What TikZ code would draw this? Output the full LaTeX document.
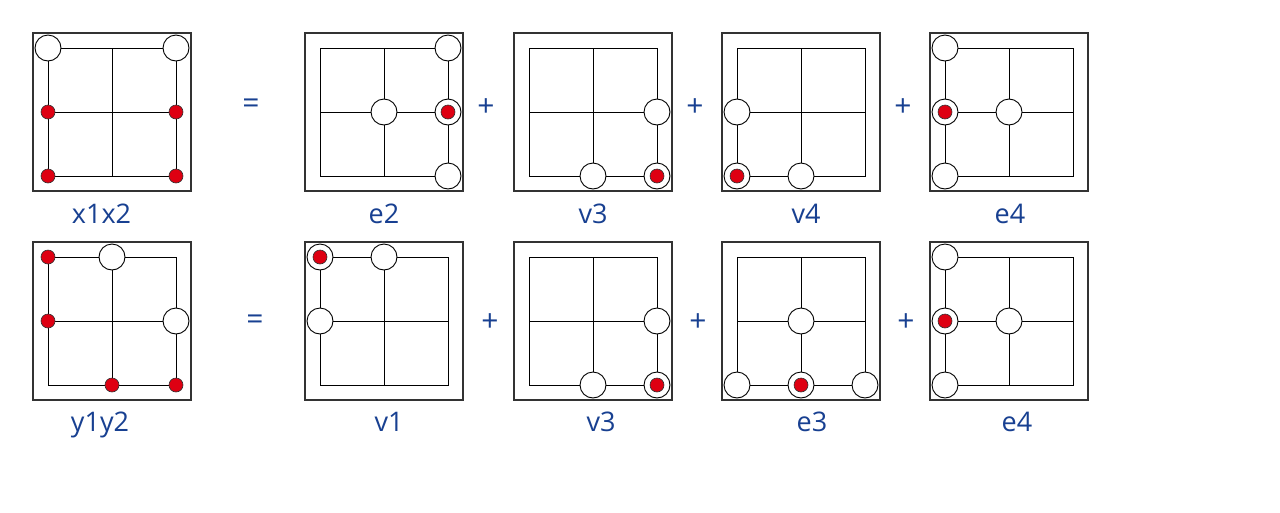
\documentclass[tikz,border=0pt]{standalone}
\usepackage{fontspec}
\setmainfont{Open Sans}
\definecolor{lblue}{RGB}{24,64,145}
\definecolor{dotred}{RGB}{222,0,18}
\tikzset{
 panelbox/.style={draw=black!80, line width=1.6pt, minimum size=158pt, inner sep=0pt, anchor=north west},
 gridline/.style={draw=black, line width=1pt},
 wc/.style={circle, draw=black, fill=white, line width=0.9pt, minimum size=26pt, inner sep=0pt},
 rd/.style={circle, draw=black!80, fill=dotred, line width=0.6pt, minimum size=14pt, inner sep=0pt},
 lbl/.style={text=lblue, font=\fontsize{27}{32}\selectfont, anchor=base, inner sep=0pt},
 opsign/.style={text=lblue, font=\fontsize{30}{36}\selectfont, inner sep=0pt},
}
\newcommand\mkpanel[3]{%
 \node[panelbox] (#1) at (#2,#3) {};
 \foreach \i in {0,1,2}{\foreach \j in {0,1,2}{\coordinate (#1-\i\j) at ({#2+16+64*\i},{#3+16+64*(2-\j)});}}
 \draw[gridline] (#1-00) rectangle (#1-22);
 \draw[gridline] (#1-10) -- (#1-12);
 \draw[gridline] (#1-01) -- (#1-21);
}
\newcommand\wcirc[2]{\node[wc] (#1) at (#2) {};}
\newcommand\rdot[2]{\node[rd] (#1) at (#2) {};}
\newcommand\ringdot[2]{\node[wc] (#1) at (#2) {}; \node[rd] (#1-in) at (#2) {};}
\begin{document}
\begin{tikzpicture}[x=1pt,y=-1pt]
\fill[white] (0,0) rectangle (1280,512);
\useasboundingbox (0,0) rectangle (1280,512);
% row 1
\mkpanel{A1}{32}{32}
\mkpanel{B1}{304}{32}
\mkpanel{C1}{513}{32}
\mkpanel{D1}{721}{32}
\mkpanel{E1}{929}{32}
% row 2
\mkpanel{A2}{32}{241}
\mkpanel{B2}{304}{241}
\mkpanel{C2}{513}{241}
\mkpanel{D2}{721}{241}
\mkpanel{E2}{929}{241}
% A1 x1x2
\wcirc{a1w1}{A1-02}\wcirc{a1w2}{A1-22}
\rdot{a1r1}{A1-01}\rdot{a1r2}{A1-21}\rdot{a1r3}{A1-00}\rdot{a1r4}{A1-20}
% B1 e2
\wcirc{b1w1}{B1-22}\wcirc{b1w2}{B1-11}\wcirc{b1w3}{B1-20}\ringdot{b1r}{B1-21}
% C1 v3
\wcirc{c1w1}{C1-21}\wcirc{c1w2}{C1-10}\ringdot{c1r}{C1-20}
% D1 v4
\wcirc{d1w1}{D1-01}\wcirc{d1w2}{D1-10}\ringdot{d1r}{D1-00}
% E1 e4
\wcirc{e1w1}{E1-02}\wcirc{e1w2}{E1-11}\wcirc{e1w3}{E1-00}\ringdot{e1r}{E1-01}
% A2 y1y2
\rdot{a2r1}{A2-02}\rdot{a2r2}{A2-01}\rdot{a2r3}{A2-10}\rdot{a2r4}{A2-20}
\wcirc{a2w1}{A2-12}\wcirc{a2w2}{A2-21}
% B2 v1
\ringdot{b2r}{B2-02}\wcirc{b2w1}{B2-12}\wcirc{b2w2}{B2-01}
% C2 v3
\wcirc{c2w1}{C2-21}\wcirc{c2w2}{C2-10}\ringdot{c2r}{C2-20}
% D2 e3
\wcirc{d2w1}{D2-11}\wcirc{d2w2}{D2-00}\wcirc{d2w3}{D2-20}\ringdot{d2r}{D2-10}
% E2 e4
\wcirc{e2w1}{E2-02}\wcirc{e2w2}{E2-11}\wcirc{e2w3}{E2-00}\ringdot{e2r}{E2-01}
% labels
\node[lbl] (lA1) at (101.5,223) {x1x2};
\node[lbl] (lB1) at (384,223) {e2};
\node[lbl] (lC1) at (593,223) {v3};
\node[lbl] (lD1) at (806,223) {v4};
\node[lbl] (lE1) at (1010,223) {e4};
\node[lbl] (lA2) at (100,431) {y1y2};
\node[lbl] (lB2) at (389,431) {v1};
\node[lbl] (lC2) at (601,431) {v3};
\node[lbl] (lD2) at (812,431) {e3};
\node[lbl] (lE2) at (1017,431) {e4};
% operators
\node[opsign] (eq1) at (251,106) {=};
\node[opsign] (p11) at (486,108) {+};
\node[opsign] (p12) at (695,108) {+};
\node[opsign] (p13) at (903,108) {+};
\node[opsign] (eq2) at (255,322) {=};
\node[opsign] (p21) at (490,323) {+};
\node[opsign] (p22) at (698,323) {+};
\node[opsign] (p23) at (906,323) {+};
\end{tikzpicture}
\end{document}
